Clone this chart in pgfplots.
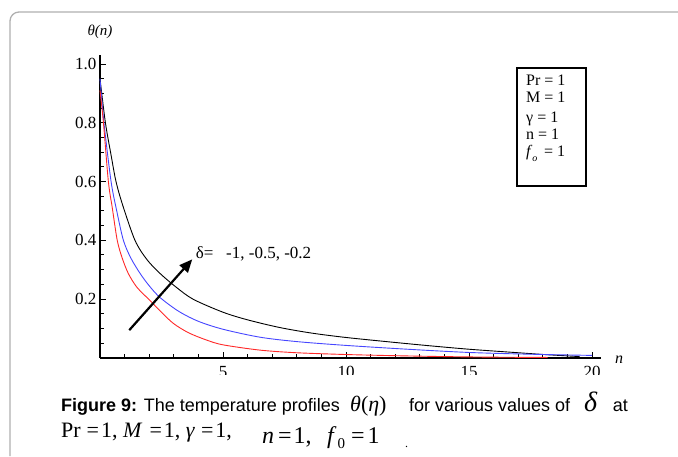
\documentclass[border=0pt]{standalone}
\usepackage{fontspec}
\setmainfont{Liberation Serif}
\setsansfont{Liberation Sans}
\usepackage{pgfplots}
\pgfplotsset{compat=1.18}
\usetikzlibrary{arrows.meta}
\definecolor{cblue}{RGB}{70,70,255}
\definecolor{cred}{RGB}{255,40,40}
\definecolor{framegray}{RGB}{175,175,175}
\begin{document}
\begin{tikzpicture}[x=1pt,y=1pt]
\path[use as bounding box] (0,0) rectangle (678,456);
\draw[framegray, line width=1.3pt, rounded corners=9pt] (10,0) -- (10,444) -- (678,444);
\begin{axis}[
  at={(100pt,98.25pt)}, anchor=south west,
  scale only axis, width=501.1pt, height=302.6pt,
  xmin=0, xmax=20.37, ymin=0, ymax=1.03,
  axis x line*=bottom, axis y line*=left,
  axis line style={-, line width=2pt},
  every outer x axis line/.append style={-},
  every outer y axis line/.append style={-},
  tick align=inside,
  major tick length=6pt, minor tick length=4pt,
  tick style={black, line width=0.9pt},
  xtick={5,10,15,20},
  minor xtick={1,2,3,4,6,7,8,9,11,12,13,14,16,17,18,19},
  ytick={0.2,0.4,0.6,0.8,1.0},
  minor ytick={0.05,0.1,0.15,0.25,0.3,0.35,0.45,0.5,0.55,0.65,0.7,0.75,0.85,0.9,0.95},
  yticklabel style={/pgf/number format/fixed, /pgf/number format/fixed zerofill, /pgf/number format/precision=1},
  xticklabel style={yshift=-5pt},
  /pgf/number format/assume math mode=true,
  ticklabel style={font=\fontsize{17}{17}\selectfont},
  clip=false,
]
\addplot[black, line width=0.9pt, smooth, tension=0.5] coordinates {
 (0,0.95) (0.22,0.80) (0.45,0.69) (0.65,0.60) (0.92,0.52) (1.42,0.40) (1.9,0.335) (2.44,0.287) (3.1,0.24) (3.79,0.199) (5.0,0.155) (6.0,0.129) (7.3,0.103) (8.6,0.084) (10,0.069) (12,0.052) (13.5,0.040) (15,0.029) (16.5,0.020) (18.05,0.011) (19.5,0.004)};
\addplot[cblue, line width=0.9pt, smooth, tension=0.5] coordinates {
 (0,0.95) (0.16,0.80) (0.45,0.60) (0.68,0.50) (0.95,0.40) (1.25,0.34) (1.63,0.287) (2.0,0.245) (2.44,0.205) (3.2,0.158) (4.0,0.124) (5.0,0.097) (6.5,0.070) (8,0.055) (10,0.042) (12.5,0.029) (15,0.018) (17.5,0.012) (20,0.008)};
\addplot[cred, line width=0.9pt, smooth, tension=0.5] coordinates {
 (0,0.91) (0.14,0.80) (0.34,0.60) (0.5,0.51) (0.70,0.40) (0.9,0.34) (1.15,0.287) (1.5,0.24) (2.03,0.195) (2.5,0.155) (2.98,0.117) (3.6,0.085) (4.34,0.060) (5.0,0.044) (6.5,0.026) (8,0.017) (10,0.011) (12,0.007) (14,0.004) (16,0.002) (18.2,0.001)};
\draw[line width=2.2pt, -{Triangle[length=13pt,width=11pt]}] (axis cs:1.19,0.094) -- (axis cs:3.75,0.335);
\node[anchor=base west, inner sep=0pt, font=\fontsize{17}{17}\selectfont] at (axis cs:3.89,0.338) {δ=\,\,\, -1, -0.5, -0.2};
\end{axis}
% cover lower part of x tick labels (cut in the reference)
\fill[white] (80,81) rectangle (645,60);
% parameter box
\draw[line width=2pt] (517,388) rectangle (586,270);
\begin{scope}[every node/.style={anchor=base west, inner sep=0pt, font=\fontsize{16}{16}\selectfont}]
\node at (526,370) {Pr = 1};
\node at (526,353) {M = 1};
\node at (526,333) {γ = 1};
\node at (526,316) {n = 1};
\node at (526,299) {\textit{f}\raisebox{-5pt}{\fontsize{10}{10}\selectfont\textit{o}}\, = 1};
\end{scope}
% axis labels
\node[font=\fontsize{15}{15}\selectfont\itshape] at (100,424) {θ(n)};
\node[font=\fontsize{16}{16}\selectfont\itshape] at (619,96) {n};
% caption line 1
\node[anchor=base west, inner sep=0pt] at (61,45) {\sffamily\fontsize{18}{18}\selectfont\textbf{Figure 9:} The temperature profiles};
\node[anchor=base west, inner sep=0pt] at (350,45) {\rmfamily\fontsize{22}{22}\selectfont\textit{θ}(\textit{η})};
\node[anchor=base west, inner sep=0pt] at (409,45) {\sffamily\fontsize{18}{18}\selectfont for various values of};
\node[anchor=base west, inner sep=0pt] at (584,45) {\rmfamily\fontsize{28}{28}\selectfont\textit{δ}};
\node[anchor=base east, inner sep=0pt] at (628,45) {\sffamily\fontsize{18}{18}\selectfont at};
% caption line 2
\node[anchor=base west, inner sep=0pt] at (61,19) {\rmfamily\fontsize{22}{22}\selectfont Pr\hspace{6pt}=\hspace{2pt}1, \textit{M}\hspace{7pt}=\hspace{2pt}1, \textit{γ}\hspace{6pt}=\hspace{2pt}1,};
\node[anchor=base west, inner sep=0pt] at (262,13) {\rmfamily\fontsize{24}{24}\selectfont\textit{n}\hspace{4pt}=\hspace{2pt}1,};
\node[anchor=base west, inner sep=0pt] at (327,13) {\rmfamily\fontsize{24}{24}\selectfont\textit{f}\hspace{1pt}\raisebox{-5pt}{\fontsize{15}{15}\selectfont 0}\hspace{6pt}=\hspace{3pt}1};
\node[anchor=base west, inner sep=0pt] at (405,9) {\rmfamily\fontsize{12}{12}\selectfont .};
\end{tikzpicture}
\end{document}
